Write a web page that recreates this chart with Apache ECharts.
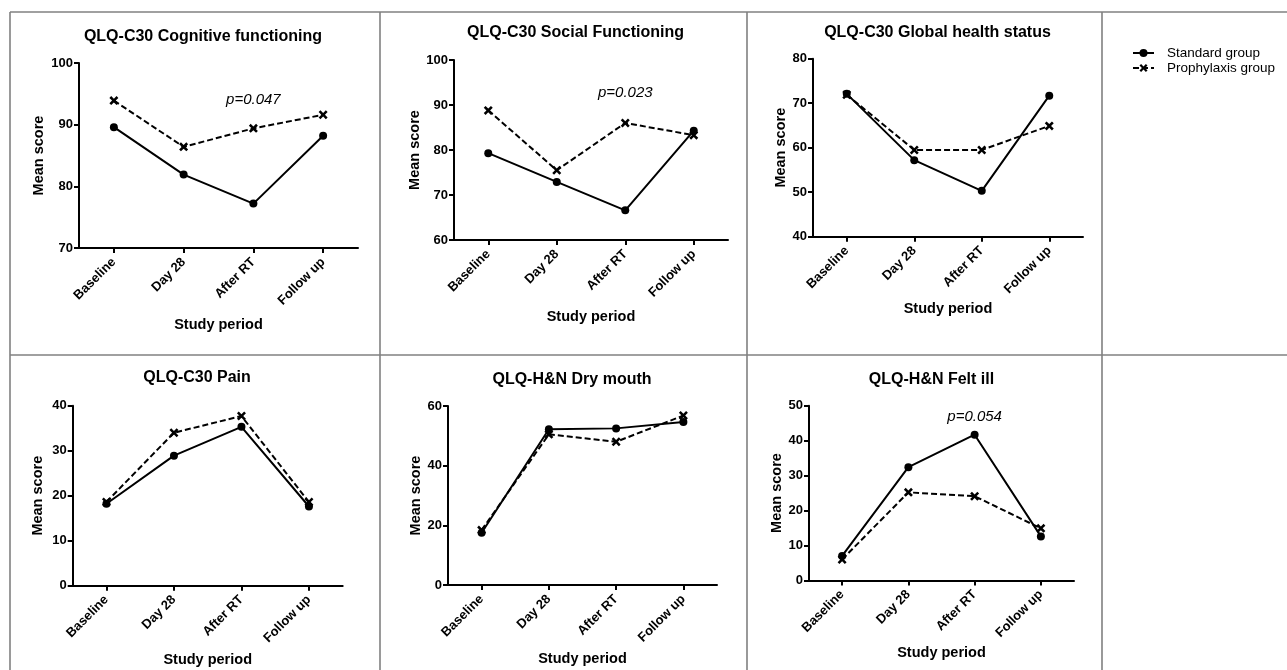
<!DOCTYPE html>
<html>
<head>
<meta charset="utf-8">
<script src="https://cdn.jsdelivr.net/npm/echarts@6/dist/echarts.min.js"></script>
<style>
  html, body { margin: 0; padding: 0; background: #fff; }
  #chart-main { width: 1287px; height: 670px; }
</style>
</head>
<body>
<div id="chart-main"></div>
<script>
// ---- data ----
const categories = ['Baseline', 'Day 28', 'After RT', 'Follow up']
const seriesNames = ['Standard group', 'Prophylaxis group']

const panelTitles = [
  'QLQ-C30 Cognitive functioning',
  'QLQ-C30 Social Functioning',
  'QLQ-C30 Global health status',
  'QLQ-C30 Pain',
  'QLQ-H&N Dry mouth',
  'QLQ-H&N Felt ill',
]

const cognitiveStd = [89.6, 81.9, 77.2, 88.2]
const cognitiveProph = [93.9, 86.4, 89.4, 91.6]
const socialStd = [79.3, 72.9, 66.6, 84.3]
const socialProph = [88.8, 75.5, 86.0, 83.3]
const globalStd = [72.1, 57.2, 50.3, 71.7]
const globalProph = [71.9, 59.5, 59.5, 64.9]
const painStd = [18.2, 28.9, 35.3, 17.6]
const painProph = [18.6, 34.0, 37.7, 18.6]
const dryMouthStd = [17.5, 52.2, 52.5, 54.6]
const dryMouthProph = [18.4, 50.5, 48.0, 56.8]
const feltIllStd = [7.0, 32.4, 41.7, 12.6]
const feltIllProph = [6.0, 25.2, 24.1, 14.9]

const standardData = [cognitiveStd, socialStd, globalStd, painStd, dryMouthStd, feltIllStd]
const prophylaxisData = [cognitiveProph, socialProph, globalProph, painProph, dryMouthProph, feltIllProph]

const yMin = [70, 60, 40, 0, 0, 0]
const yMax = [100, 100, 80, 40, 60, 50]
const yStep = [10, 10, 10, 10, 20, 10]

// p-value annotations: panel index, text, height on the value axis
const pNotes = [
  { panel: 0, text: 'p=0.047', value: 94.0 },
  { panel: 1, text: 'p=0.023', value: 92.7 },
  { panel: 5, text: 'p=0.054', value: 46.8 },
]

// ---- layout (pixels) ----
const grids = [
  { left: 79, top: 63, width: 279, height: 185 },
  { left: 454, top: 60, width: 274, height: 180 },
  { left: 813, top: 58.7, width: 270, height: 178 },
  { left: 72.7, top: 405.7, width: 270, height: 180 },
  { left: 448, top: 406, width: 269, height: 179 },
  { left: 809, top: 405.7, width: 265, height: 174.7 },
]
const titlePos = [[203, 37], [575.5, 33], [937.5, 33], [197, 378], [572, 380], [931.5, 379.5]]
const yNameGap = [33, 31, 25, 27, 25, 24]
const xNameGap = [69, 69, 65, 67, 66, 65]

const FONT = '"Liberation Sans", Arial, Helvetica, sans-serif'
const CROSS = 'path://M0,2 L2,0 L5,3 L8,0 L10,2 L7,5 L10,8 L8,10 L5,7 L2,10 L0,8 L3,5 Z'

let chartInstance = null
function initChart() {
  if (chartInstance) {
    chartInstance.dispose()
  }
  chartInstance = echarts.init(document.getElementById('chart-main'), null, { renderer: 'canvas' })

  const title = panelTitles.map((t, i) => ({
    text: t,
    left: titlePos[i][0],
    top: titlePos[i][1],
    textAlign: 'center',
    textVerticalAlign: 'middle',
    padding: 0,
    textStyle: { fontFamily: FONT, fontSize: 16, fontWeight: 'bold', color: '#000' },
  }))

  const grid = grids.map(g => Object.assign({ containLabel: false, outerBoundsMode: 'none' }, g))

  const xAxis = grids.map((g, i) => ({
    type: 'category',
    gridIndex: i,
    data: categories,
    boundaryGap: true,
    axisLine: { show: true, lineStyle: { color: '#000', width: 2 } },
    axisTick: { show: true, alignWithLabel: true, length: 5, lineStyle: { color: '#000', width: 2 } },
    axisLabel: {
      interval: 0,
      rotate: 45,
      margin: 12,
      fontFamily: FONT,
      fontSize: 13,
      fontWeight: 'bold',
      color: '#000',
    },
    splitLine: { show: false },
    name: 'Study period',
    nameLocation: 'middle',
    nameGap: xNameGap[i],
    nameTextStyle: { fontFamily: FONT, fontSize: 14.5, fontWeight: 'bold', color: '#000' },
  }))

  const yAxis = grids.map((g, i) => ({
    type: 'value',
    gridIndex: i,
    min: yMin[i],
    max: yMax[i],
    interval: yStep[i],
    axisLine: { show: true, lineStyle: { color: '#000', width: 2 } },
    axisTick: { show: true, length: 5, lineStyle: { color: '#000', width: 2 } },
    axisLabel: {
      margin: 6,
      showMinLabel: true,
      showMaxLabel: true,
      fontFamily: FONT,
      fontSize: 13,
      fontWeight: 'bold',
      color: '#000',
    },
    splitLine: { show: false },
    name: 'Mean score',
    nameLocation: 'middle',
    nameRotate: 90,
    nameGap: yNameGap[i],
    nameTextStyle: { fontFamily: FONT, fontSize: 14.5, fontWeight: 'bold', color: '#000' },
  }))

  const series = []
  grids.forEach((g, i) => {
    const note = pNotes.find(p => p.panel === i)
    series.push({
      name: seriesNames[1],
      type: 'line',
      xAxisIndex: i,
      yAxisIndex: i,
      data: prophylaxisData[i],
      symbol: CROSS,
      symbolSize: 9,
      lineStyle: { color: '#000', width: 2, type: [6, 3] },
      itemStyle: { color: '#000' },
      z: 2,
      markPoint: note
        ? {
            symbol: 'circle',
            symbolSize: 1,
            itemStyle: { color: 'rgba(0,0,0,0)' },
            label: {
              show: true,
              position: 'inside',
              formatter: note.text,
              fontFamily: FONT,
              fontSize: 15,
              fontStyle: 'italic',
              color: '#000',
            },
            data: [{ coord: [categories[2], note.value] }],
          }
        : undefined,
    })
    series.push({
      name: seriesNames[0],
      type: 'line',
      xAxisIndex: i,
      yAxisIndex: i,
      data: standardData[i],
      symbol: 'circle',
      symbolSize: 8,
      lineStyle: { color: '#000', width: 2 },
      itemStyle: { color: '#000' },
      z: 3,
    })
  })

  // table rules around the panels
  const ruleStyle = { stroke: '#808080', lineWidth: 1.6 }
  const rule = (x1, y1, x2, y2) => ({ type: 'line', silent: true, shape: { x1, y1, x2, y2 }, style: ruleStyle })
  const graphic = [
    rule(10, 12, 1287, 12),
    rule(10, 355, 1287, 355),
    rule(10, 12, 10, 670),
    rule(380, 12, 380, 670),
    rule(747, 12, 747, 670),
    rule(1102, 12, 1102, 670),
  ]

  const option = {
    animation: false,
    backgroundColor: '#fff',
    title,
    legend: {
      orient: 'vertical',
      left: 1132,
      top: 46,
      padding: 0,
      itemWidth: 21,
      itemHeight: 10,
      itemGap: 1,
      data: seriesNames,
      textStyle: { fontFamily: FONT, fontSize: 13.5, color: '#000', lineHeight: 13, padding: [0, 0, 0, 8] },
    },
    grid,
    xAxis,
    yAxis,
    series,
    graphic,
  }

  option && chartInstance.setOption(option)
}

initChart()
</script>
</body>
</html>
